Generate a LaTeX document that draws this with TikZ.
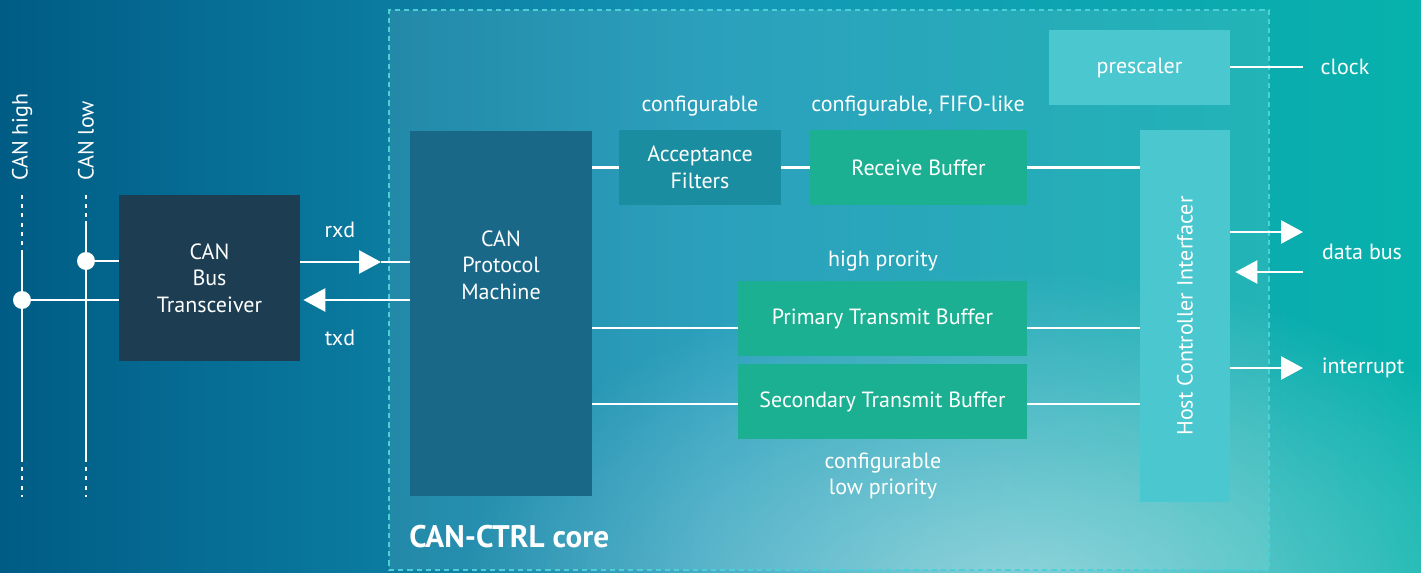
\documentclass[tikz,border=0pt]{standalone}
\usepackage{fontspec}
\setmainfont{PT Sans}
\usetikzlibrary{arrows.meta,fadings,calc}
\definecolor{bgL}{HTML}{005C85}
\definecolor{bgM}{HTML}{1496B6}
\definecolor{bgR}{HTML}{07B2AC}
\definecolor{transC}{HTML}{1C3D52}
\definecolor{pmC}{HTML}{1A6888}
\definecolor{accC}{HTML}{1A8EA0}
\definecolor{bufC}{HTML}{1BB091}
\definecolor{lightC}{HTML}{4BC7D0}
\definecolor{dashC}{HTML}{4DCFD8}
\tikzfading[name=glowfade, inner color=transparent!0, outer color=transparent!100]
\begin{document}
\begin{tikzpicture}[x=0.5pt,y=-0.5pt,
  every node/.style={text=white, font=\fontsize{11}{13.3}\selectfont},
  blk/.style={inner sep=0pt, align=center},
  txt/.style={inner sep=0pt, align=center},
  wire/.style={draw=white, line width=1.4pt},
  buswire/.style={draw=white, line width=1.3pt},
  busdots/.style={draw=white, line width=1.3pt, dash pattern=on 2pt off 2.6pt},
  dot/.style={circle, fill=white, minimum size=9pt, inner sep=0pt},
  tri/.style={-{Triangle[length=11pt,width=11.5pt]}},
  corebox/.style={draw=dashC, line width=1pt, dash pattern=on 2.6pt off 2pt, fill=white, fill opacity=0.1, inner sep=0pt}
]
\useasboundingbox (0,0) rectangle (1421,573);
% background
\shade[left color=bgL, right color=bgR, middle color=bgM] (0,0) rectangle (1421,573);
\fill[white, fill opacity=0.5, path fading=glowfade] (1020,600) ellipse [x radius=560, y radius=330];
% core region
\node[corebox, minimum width=440pt, minimum height=280pt] (core) at (829,290) {};
\node[anchor=west, inner sep=0pt, font=\fontsize{15.6}{18}\selectfont\bfseries] (corelbl) at (409,537) {CAN-CTRL core};

% blocks
\node[blk, fill=transC, minimum width=90.5pt, minimum height=83pt] (trans) at (209.5,278) {CAN\\Bus\\Transceiver};
\node[blk, fill=pmC, minimum width=91pt, minimum height=182.5pt] (pm) at (501,313.5) {};
\node[txt] (pmtext) at (501,265) {CAN\\Protocol\\Machine};
\node[blk, fill=accC, minimum width=81pt, minimum height=37.5pt] (acc) at (700,167.5) {Acceptance\\Filters};
\node[blk, fill=bufC, minimum width=108.5pt, minimum height=37.5pt] (recv) at (918.5,167.5) {Receive Buffer};
\node[blk, fill=lightC, minimum width=90.5pt, minimum height=37.5pt] (pre) at (1139.5,67.5) {prescaler};
\node[blk, fill=lightC, minimum width=45pt, minimum height=186pt] (hci) at (1185,316) {};
\node[txt, rotate=90] (hcitext) at (1185,316) {Host Controller Interfacer};
\node[blk, fill=bufC, minimum width=144.5pt, minimum height=37.5pt] (prim) at (882.5,318.5) {Primary Transmit Buffer};
\node[blk, fill=bufC, minimum width=144.5pt, minimum height=37.5pt] (sec) at (882.5,401.5) {Secondary Transmit Buffer};

% labels
\node[txt] (lrxd) at (340,230) {rxd};
\node[txt] (ltxd) at (340,338) {txd};
\node[txt] (lconf) at (700,106) {configurable};
\node[txt] (lfifo) at (918,106) {configurable, FIFO-like};
\node[txt] (lhigh) at (883,261) {high prority};
\node[txt] (llow) at (883,476) {configurable\\low priority};
\node[txt] (lclock) at (1345,67) {clock};
\node[txt] (ldata) at (1362,252) {data bus};
\node[txt] (lint) at (1363,368) {interrupt};
\node[txt, rotate=90, anchor=west] (lhi) at (22,181) {CAN high};
\node[txt, rotate=90, anchor=west] (llo) at (86,181) {CAN low};

% CAN bus lines
\coordinate (hiT) at (22,195); \coordinate (hiS) at (22,254);
\coordinate (hiE) at (22,458); \coordinate (hiB) at (22,497);
\coordinate (loT) at (86,195); \coordinate (loS) at (86,221);
\coordinate (loE) at (86,458); \coordinate (loB) at (86,497);
\draw[busdots] (hiT) -- (hiS);
\draw[buswire] (hiS) -- (hiE);
\draw[busdots] (hiE) -- (hiB);
\draw[busdots] (loT) -- (loS);
\draw[buswire] (loS) -- (loE);
\draw[busdots] (loE) -- (loB);
\node[dot] (ljoin) at (86,261) {};
\node[dot] (hjoin) at (22,300) {};
\draw[wire] (ljoin) -- (trans.west |- ljoin);
\draw[wire] (hjoin) -- (trans.west |- hjoin);

% rxd / txd
\coordinate (rxtip) at (381,262);
\draw[wire, tri] (trans.east |- rxtip) -- (rxtip);
\draw[wire] (rxtip) -- (pm.west |- rxtip);
\draw[wire, tri, shorten >=1.5pt] (pm.west |- 0,300) -- (trans.east |- 0,300);

% receive path
\draw[wire] (pm.east |- acc) -- (acc.west);
\draw[wire] (acc.east) -- (recv.west);
\draw[wire] (recv.east) -- (recv.east -| hci.west);
% transmit paths
\draw[wire] (pm.east |- 0,328) -- (prim.west |- 0,328);
\draw[wire] (prim.east |- 0,328) -- (hci.west |- 0,328);
\draw[wire] (pm.east |- 0,404) -- (sec.west |- 0,404);
\draw[wire] (sec.east |- 0,404) -- (hci.west |- 0,404);

% host side
\coordinate (clk) at (1303,67);
\draw[wire] (pre.east |- clk) -- (clk);
\coordinate (db1) at (1303,232);
\draw[wire, tri] (hci.east |- db1) -- (db1);
\coordinate (db2) at (1303,272);
\draw[wire, tri, shorten >=2.5pt] (db2) -- (hci.east |- db2);
\coordinate (irq) at (1303,368);
\draw[wire, tri] (hci.east |- irq) -- (irq);
\end{tikzpicture}
\end{document}
